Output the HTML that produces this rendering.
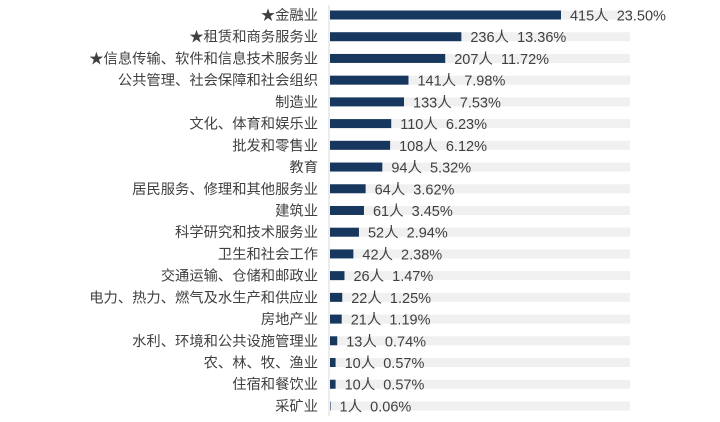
<!DOCTYPE html>
<html><head><meta charset="utf-8">
<style>
html,body{margin:0;padding:0;background:#fff;}
svg{display:block;font-family:"Liberation Sans","Noto Sans CJK SC",sans-serif;}
</style></head>
<body>
<svg id="chart" width="720" height="422" viewBox="0 0 720 422"></svg>
<script>
const categories = ["★金融业","★租赁和商务服务业","★信息传输、软件和信息技术服务业","公共管理、社会保障和社会组织","制造业","文化、体育和娱乐业","批发和零售业","教育","居民服务、修理和其他服务业","建筑业","科学研究和技术服务业","卫生和社会工作","交通运输、仓储和邮政业","电力、热力、燃气及水生产和供应业","房地产业","水利、环境和公共设施管理业","农、林、牧、渔业","住宿和餐饮业","采矿业"];
const counts = [415,236,207,141,133,110,108,94,64,61,52,42,26,22,21,13,10,10,1];
const percents = ["23.50%","13.36%","11.72%","7.98%","7.53%","6.23%","6.12%","5.32%","3.62%","3.45%","2.94%","2.38%","1.47%","1.25%","1.19%","0.74%","0.57%","0.57%","0.06%"];
const maxTrack = 539;

const svg = document.getElementById('chart');
const NS = "http://www.w3.org/2000/svg";
const x0 = 330, trackW = 300, y0 = 15, step = 21.72, barH = 9;
const xScale = v => v / maxTrack * trackW;
const yPos = i => y0 + i * step;
function mk(tag, attrs){const e=document.createElementNS(NS,tag);for(const k in attrs)e.setAttribute(k,attrs[k]);svg.appendChild(e);return e;}

categories.forEach((c,i)=>{
  const y = yPos(i);
  const tr = mk('rect',{x:x0,y:y-barH/2,width:trackW,height:barH,fill:'#f0f0f0'});
  
  
  const w = xScale(counts[i]);
  const b = mk('rect',{x:x0,y:y-barH/2,width:w,height:barH,fill:'#17375e'});
  
  
  const lab = mk('text',{x:318,y:y+5,'text-anchor':'end','font-size':'14.3',fill:'#404040'});
  lab.textContent = c;
  
  
  const val = mk('text',{x:x0+w+9,y:y+5.5,'font-size':'14.5',fill:'#404040'});
  val.textContent = counts[i]+'人  '+percents[i];
  val.setAttribute('xml:space','preserve');
  val.style.whiteSpace='pre';
  
  
});
const ax = mk('line',{x1:329,y1:5,x2:329,y2:416,stroke:'#d9d9d9','stroke-width':1});


</script>
</body></html>
